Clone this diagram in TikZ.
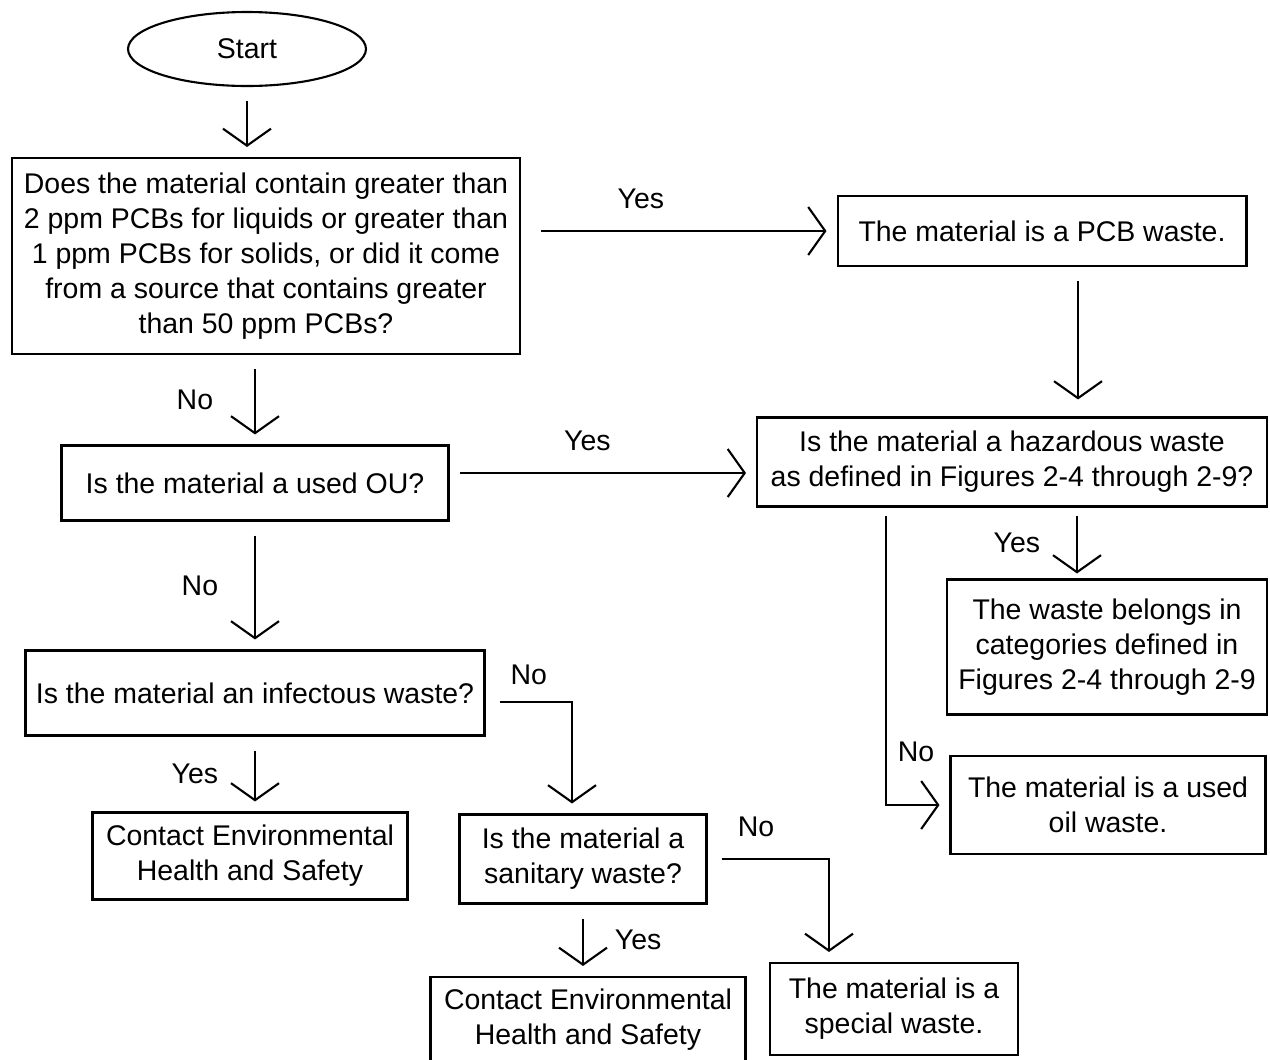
\documentclass[tikz,border=0pt]{standalone}
\usepackage{fontspec}
\setmainfont{Liberation Sans}
\usetikzlibrary{arrows.meta,calc,shapes.geometric}

\begin{document}
\begin{tikzpicture}[x=0.02cm, y=-0.02cm, line width=1.2pt,
    >={Straight Barb[length=0.34cm,width=0.96cm]},
    lbl/.style={font=\fontsize{16.2}{19.9}\selectfont},
    box/.style={draw, rectangle, align=center, inner sep=0pt, lbl},
    flow/.style={->, shorten <=0.28cm, shorten >=0.2cm}]
    \useasboundingbox (0,0) rectangle (1270,1059);

    \node[draw, ellipse, minimum width=4.76cm, minimum height=1.48cm, inner sep=0pt, lbl] (start) at (247,49) {Start};

    \node[box, minimum width=10.16cm, minimum height=3.92cm] (pcbq) at (266,256)
        {Does the material contain greater than\\2 ppm PCBs for liquids or greater than\\1 ppm PCBs for solids, or did it come\\from a source that contains greater\\than 50 ppm PCBs?};
    \node[box, minimum width=8.18cm, minimum height=1.4cm] (pcbw) at (1042,231) {The material is a PCB waste.};
    \node[box, minimum width=10.2cm, minimum height=1.78cm] (hazq) at (1012,462)
        {Is the material a hazardous waste\\as defined in Figures 2-4 through 2-9?};
    \node[box, minimum width=7.74cm, minimum height=1.5cm] (ouq) at (255,483) {Is the material a used OU?};
    \node[box, minimum width=9.18cm, minimum height=1.7cm] (infq) at (255,693) {Is the material an infectous waste?};
    \node[box, minimum width=6.3cm, minimum height=1.74cm] (ehs1) at (250,856) {Contact Environmental\\Health and Safety};
    \node[box, minimum width=4.94cm, minimum height=1.78cm] (sanq) at (583,859) {Is the material a\\sanitary waste?};
    \node[box, minimum width=6.3cm, minimum height=1.72cm] (ehs2) at (588,1020) {Contact Environmental\\Health and Safety};
    \node[box, minimum width=4.96cm, minimum height=1.84cm] (special) at (894,1009) {The material is a\\special waste.};
    \node[box, minimum width=6.4cm, minimum height=2.7cm] (cats) at (1107,647)
        {The waste belongs in\\categories defined in\\Figures 2-4 through 2-9};
    \node[box, minimum width=6.3cm, minimum height=1.96cm] (oilw) at (1108,805) {The material is a used\\oil waste.};

    \coordinate (pcbout) at ($(pcbw.south)+(36,0)$);
    \coordinate (ouyes) at ($(ouq.east)+(0,-10)$);
    \coordinate (infno) at ($(infq.east)+(0,9)$);
    \coordinate (sanin) at ($(sanq.north)+(-11,0)$);
    \coordinate (specin) at ($(special.north)+(-65,0)$);
    \coordinate (hazyes) at ($(hazq.south)+(65,0)$);
    \coordinate (hazno) at ($(hazq.south)+(-126,0)$);

    \draw[flow] (start.south) -- (start.south |- pcbq.north);
    \draw[flow, shorten <=0.4cm] (pcbq.east |- pcbw) -- (pcbw.west)
        node[lbl, pos=0.38, above=0.3cm] (yes1) {Yes};
    \draw[flow, shorten >=0.34cm] (pcbout) -- (pcbout |- hazq.north);
    \draw[flow] (pcbq.south -| ouq) -- (ouq.north)
        node[lbl, midway, left=0.7cm] (no1) {No};
    \draw[flow, shorten <=0.2cm] (ouyes) -- (ouyes -| hazq.west)
        node[lbl, pos=0.45, above=0.3cm] (yes2) {Yes};
    \draw[flow] (ouq.south) -- (ouq.south |- infq.north)
        node[lbl, midway, left=0.6cm] (no2) {No};
    \draw[flow] (infq.south) -- (infq.south |- ehs1.north)
        node[lbl, midway, left=0.6cm] (yes3) {Yes};
    \draw[flow] (infno) -| (sanin)
        node[lbl, pos=0.25, above=0.2cm] (no3) {No};
    \draw[flow] (sanq.south) -- (sanq.south |- ehs2.north)
        node[lbl, midway, right=0.5cm] (yes4) {Yes};
    \draw[flow] (sanq.east) -| (specin)
        node[lbl, pos=0.2, above=0.3cm] (no4) {No};
    \draw[flow, shorten <=0.16cm, shorten >=0.1cm] (hazyes) -- (hazyes |- cats.north)
        node[lbl, midway, left=0.6cm] (yes5) {Yes};
    \draw[flow, shorten <=0.16cm] (hazno) |- (oilw.west)
        node[lbl, pos=0.41, right=0.1cm] (no5) {No};
\end{tikzpicture}
\end{document}
